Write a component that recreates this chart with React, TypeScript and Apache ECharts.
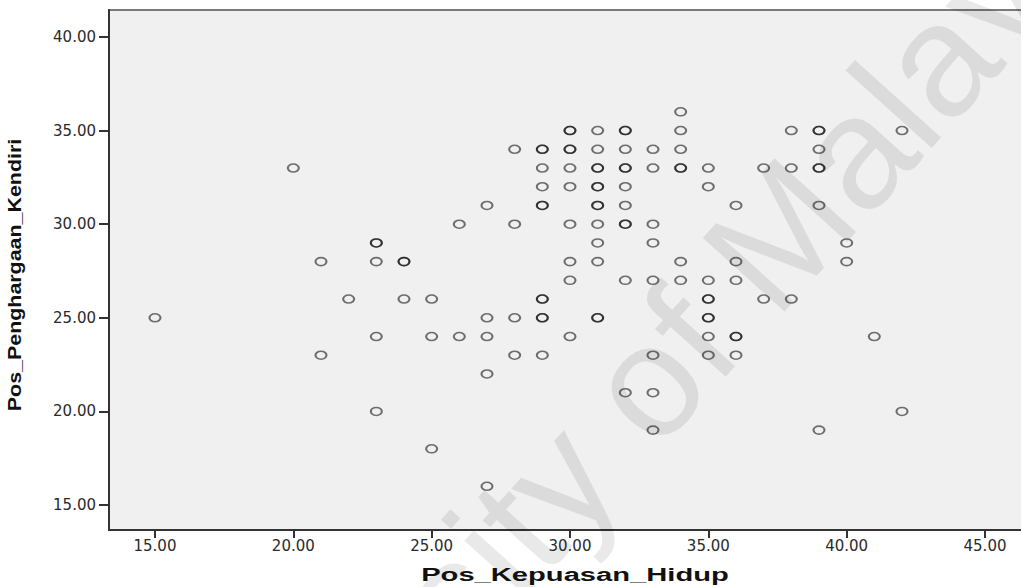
import React, { useEffect, useRef } from "react";
import * as echarts from "echarts";

// Pos_Kepuasan_Hidup columns (x) and the Pos_Penghargaan_Kendiri values seen in each column (y).
// Values listed twice are overlapping cases (drawn darker in the original).
const kepuasanHidup = [15, 20, 21, 22, 23, 24, 25, 26, 27, 28, 29, 30, 31, 32, 33, 34, 35, 36, 37, 38, 39, 40, 41, 42];
const penghargaanKendiri = [
  [25],
  [33],
  [28, 23],
  [26],
  [29, 29, 28, 24, 20],
  [28, 28, 26],
  [26, 24, 18],
  [30, 24],
  [31, 25, 24, 22, 16],
  [34, 30, 25, 23],
  [34, 34, 33, 32, 31, 31, 26, 26, 25, 25, 23],
  [35, 35, 34, 34, 33, 32, 30, 28, 27, 24],
  [35, 34, 33, 33, 32, 32, 31, 31, 30, 29, 28, 25, 25],
  [35, 35, 34, 33, 33, 32, 31, 30, 30, 27, 21],
  [34, 33, 30, 29, 27, 23, 21, 19],
  [36, 35, 34, 33, 33, 28, 27],
  [33, 32, 27, 26, 26, 25, 25, 24, 23],
  [31, 28, 27, 24, 24, 23],
  [33, 26],
  [35, 33, 26],
  [35, 35, 34, 33, 33, 31, 19],
  [29, 28],
  [24],
  [35, 20],
];
const xTickValues = [15, 20, 25, 30, 35, 40, 45];
const yTickValues = [15, 20, 25, 30, 35, 40];
const xTitle = "Pos_Kepuasan_Hidup";
const yTitle = "Pos_Penghargaan_Kendiri";
const watermark = "University of Malaya";

export default function App() {
  const ref = useRef<HTMLDivElement>(null);
  useEffect(() => {
    if (!ref.current) return;
    const chart = echarts.init(ref.current, null, { renderer: "svg" });
    const points: number[][] = [];
    kepuasanHidup.forEach((x, i) => {
      penghargaanKendiri[i].forEach((y) => points.push([x, y]));
    });
    const deg = (48 * Math.PI) / 180;
    chart.setOption({
      animation: false,
      backgroundColor: "#ffffff",
      grid: {
        left: 109,
        top: 10,
        width: 915,
        height: 520,
        show: true,
        backgroundColor: "#f0f0f0",
        borderColor: "#7a7a7a",
        borderWidth: 2,
        containLabel: false,
        outerBoundsMode: "none",
        z: 0,
      },
      xAxis: {
        type: "value",
        min: 13.338,
        max: 46.41,
        splitLine: { show: false },
        axisLine: { show: true, onZero: false, lineStyle: { color: "#333", width: 2 } },
        axisTick: {
          show: true,
          length: 8,
          customValues: xTickValues,
          lineStyle: { color: "#333", width: 2 },
        },
        axisLabel: {
          customValues: xTickValues,
          formatter: (v: number) => v.toFixed(2),
          fontFamily: "DejaVu Sans",
          fontSize: 15,
          color: "#2a2a2a",
          margin: 8,
        },
      },
      yAxis: {
        type: "value",
        min: 13.665,
        max: 41.44,
        splitLine: { show: false },
        axisLine: { show: true, onZero: false, lineStyle: { color: "#333", width: 2 } },
        axisTick: {
          show: true,
          length: 10,
          customValues: yTickValues,
          lineStyle: { color: "#333", width: 2 },
        },
        axisLabel: {
          customValues: yTickValues,
          formatter: (v: number) => v.toFixed(2),
          fontFamily: "DejaVu Sans",
          fontSize: 15,
          color: "#2a2a2a",
          margin: 13,
        },
      },
      graphic: [
        {
          type: "text",
          x: 116,
          y: 971,
          rotation: deg,
          z: 1,
          silent: true,
          style: {
            text: watermark,
            fontFamily: "Liberation Sans",
            fontSize: 160,
            fill: "rgba(0,0,0,0.085)",
            textAlign: "left",
            align: "left",
            textVerticalAlign: "middle",
            verticalAlign: "middle",
          },
        },
        {
          type: "text",
          x: 15,
          y: 275,
          rotation: Math.PI / 2,
          scaleX: 1.19,
          z: 5,
          style: {
            text: yTitle,
            fontFamily: "Liberation Sans",
            fontWeight: "bold",
            fontSize: 18,
            fill: "#111",
            textAlign: "center",
            align: "center",
            textVerticalAlign: "middle",
            verticalAlign: "middle",
          },
        },
        {
          type: "text",
          x: 575,
          y: 575,
          scaleX: 1.62,
          z: 5,
          style: {
            text: xTitle,
            fontFamily: "Liberation Sans",
            fontWeight: "bold",
            fontSize: 18,
            fill: "#111",
            textAlign: "center",
            align: "center",
            textVerticalAlign: "middle",
            verticalAlign: "middle",
          },
        },
      ],
      series: [
        {
          type: "scatter",
          data: points,
          z: 3,
          symbol: "path://M0,5 A5,5 0 1,1 10,5 A5,5 0 1,1 0,5 Z",
          symbolSize: [11, 8],
          itemStyle: {
            color: "rgba(0,0,0,0)",
            borderColor: "rgba(0,0,0,0.68)",
            borderWidth: 1.8,
          },
        },
      ],
    });
    return () => chart.dispose();
  }, []);
  return (
    <div
      ref={ref}
      style={{ position: "fixed", left: 0, top: 0, width: 1021, height: 587, background: "#fff" }}
    />
  );
}
